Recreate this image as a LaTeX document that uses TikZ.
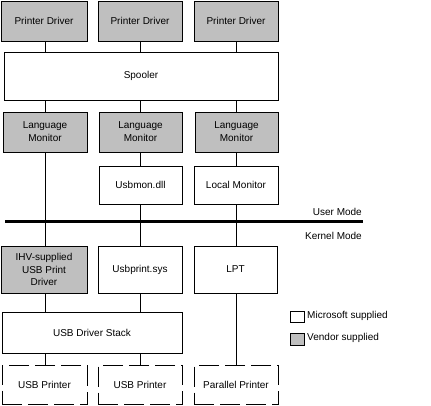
\documentclass[tikz,border=0pt]{standalone}
\usepackage{fontspec}
\setmainfont{Liberation Sans}
\begin{document}
\begin{tikzpicture}[x=1pt,y=-1pt,
  every node/.style={font=\fontsize{10}{12.8}\selectfont},
  box/.style={draw,line width=0.8pt,inner sep=0pt,align=center},
  vend/.style={box,fill=gray!50},
  ms/.style={box,fill=white},
  dev/.style={draw,line width=0.8pt,dash pattern=on 20pt off 6pt,inner sep=0pt,align=center},
  conn/.style={line width=0.8pt},
  modetext/.style={anchor=east,inner sep=0pt}]
\useasboundingbox (0,0) rectangle (431,406);
% printer drivers
\node[vend,minimum width=86,minimum height=40] (pd1) at (44,21) {Printer Driver};
\node[vend,minimum width=84,minimum height=40] (pd2) at (140,21) {Printer Driver};
\node[vend,minimum width=84,minimum height=40] (pd3) at (236,21) {Printer Driver};
% spooler
\node[ms,minimum width=274,minimum height=48] (spool) at (141,76) {Spooler};
% language monitors
\node[vend,minimum width=84,minimum height=40] (lm1) at (45,132) {Language\\Monitor};
\node[vend,minimum width=83,minimum height=40] (lm2) at (140.5,132) {Language\\Monitor};
\node[vend,minimum width=83,minimum height=40] (lm3) at (236.5,132) {Language\\Monitor};
% port monitors
\node[ms,minimum width=83,minimum height=38] (usbmon) at (140.5,185) {Usbmon.dll};
\node[ms,minimum width=84,minimum height=38] (locmon) at (236,185) {Local Monitor};
% mode line
\coordinate (ml) at (5,222);
\coordinate (mr) at (363,222);
\node[modetext] (um) at (362,212) {User Mode};
\node[modetext] (km) at (362,236) {Kernel Mode};
% kernel drivers
\node[vend,minimum width=86,minimum height=47] (ihv) at (44,269.5) {IHV-supplied\\USB Print\\Driver};
\node[ms,minimum width=84,minimum height=47] (usbprint) at (140,269.5) {Usbprint.sys};
\node[ms,minimum width=83,minimum height=47] (lpt) at (235.5,269.5) {LPT};
\node[ms,minimum width=180,minimum height=41] (stack) at (92,332.5) {USB Driver Stack};
% printers
\node[dev,minimum width=85,minimum height=39] (p1) at (44.5,385) {USB Printer};
\node[dev,minimum width=84,minimum height=39] (p2) at (140,385) {USB Printer};
\node[dev,minimum width=84,minimum height=39] (p3) at (236,385) {Parallel Printer};
% legend
\node[ms,minimum width=14,minimum height=11] (lgm) at (297,317) {};
\node[anchor=west,inner sep=0pt] (lgmt) at (307,316) {Microsoft supplied};
\node[vend,minimum width=14,minimum height=12] (lgv) at (297,339.5) {};
\node[anchor=west,inner sep=0pt] (lgvt) at (307,338) {Vendor supplied};
% connectors
\draw[conn] (pd1.south -| lm1.north) -- (lm1.north |- spool.north);
\draw[conn] (pd2.south -| lm2.north) -- (lm2.north |- spool.north);
\draw[conn] (pd3.south -| lm3.north) -- (lm3.north |- spool.north);
\draw[conn] (lm1.north |- spool.south) -- (lm1.north);
\draw[conn] (lm2.north |- spool.south) -- (lm2.north);
\draw[conn] (lm3.north |- spool.south) -- (lm3.north);
\draw[conn] (lm1.south) -- (lm1.south |- ihv.north);
\draw[conn] (lm2.south) -- (usbmon.north);
\draw[conn] (lm3.south -| locmon.north) -- (locmon.north);
\draw[conn] (usbmon.south) -- (usbmon.south |- usbprint.north);
\draw[conn] (locmon.south) -- (locmon.south |- lpt.north);
\draw[conn] (lm1.south |- ihv.south) -- (lm1.south |- stack.north);
\draw[conn] (usbmon.south |- usbprint.south) -- (usbmon.south |- stack.north);
\draw[conn] (lm1.south |- stack.south) -- (lm1.south |- p1.north);
\draw[conn] (usbmon.south |- stack.south) -- (usbmon.south |- p2.north);
\draw[conn] (locmon.south |- lpt.south) -- (locmon.south |- p3.north);
\draw[line width=3pt] (ml) -- (mr);
\end{tikzpicture}
\end{document}
